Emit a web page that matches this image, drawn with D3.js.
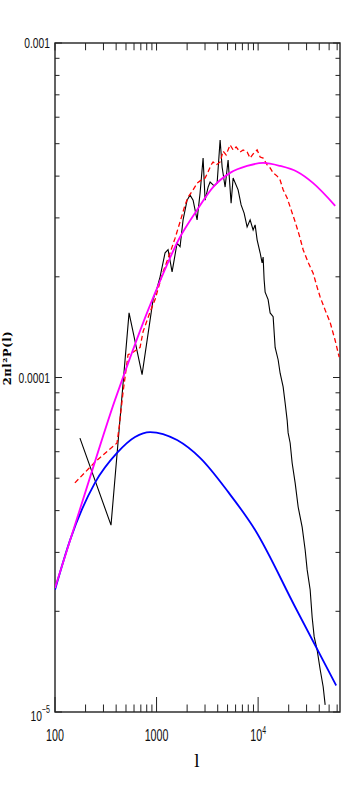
<!DOCTYPE html>
<html>
<head>
<meta charset="utf-8">
<script src="https://cdn.jsdelivr.net/npm/d3@7/dist/d3.min.js"></script>
<style>
  body { margin: 0; background: #fff; }
  svg { display: block; }
  .tick-label { font-family: 'Liberation Sans', Arial, sans-serif; fill: #111; }
</style>
</head>
<body>
<div id="chart"></div>
<script>
// values (l, 2*pi*l^2*P(l))
const magentaL = [100, 198, 390, 478, 825, 967, 1704, 2506, 3603, 5298, 7792, 11200, 16470, 24230, 34830, 57380];
const magentaP = [2.35e-5, 4.52e-5, 8.57e-5, 1.02e-4, 1.59e-4, 1.79e-4, 2.63e-4, 3.17e-4, 3.71e-4, 4.09e-4, 4.29e-4, 4.38e-4, 4.29e-4, 4.12e-4, 3.81e-4, 3.26e-4];

const blueL = [100, 141, 248, 408, 614, 863, 1592, 2683, 5063, 9342, 23150, 58690];
const blueP = [2.32e-5, 3.27e-5, 4.85e-5, 5.95e-5, 6.64e-5, 6.87e-5, 6.50e-5, 5.75e-5, 4.55e-5, 3.50e-5, 2.06e-5, 1.20e-5];

const redL = [157, 248, 408, 427, 468, 524, 587, 688, 736, 863, 967, 1133, 1359, 1522, 1704, 1909, 2044, 2289, 2506, 2683,
  3005, 3217, 3443, 3603, 3857, 4224, 4522, 4839, 5298, 5672, 6071, 6647, 7116, 7792, 8341, 8928, 9775, 10464, 11204, 12265,
  13130, 14055, 15390, 16470, 17634, 19310, 21140, 23150, 25350, 27760, 31080, 34830, 38140, 40820, 45720, 51220, 57380, 62810];
const redP = [4.84e-5, 5.59e-5, 6.37e-5, 7.06e-5, 9.05e-5, 1.17e-4, 1.19e-4, 1.23e-4, 1.37e-4, 1.57e-4, 1.71e-4, 2.03e-4, 2.36e-4, 2.61e-4, 2.92e-4, 3.28e-4, 3.46e-4, 3.64e-4, 3.81e-4, 3.87e-4,
  3.95e-4, 4.12e-4, 4.32e-4, 4.41e-4, 4.32e-4, 4.41e-4, 4.75e-4, 4.63e-4, 4.96e-4, 4.79e-4, 4.89e-4, 4.72e-4, 4.79e-4, 4.72e-4, 4.53e-4, 4.66e-4, 4.79e-4, 4.56e-4, 4.53e-4, 4.32e-4,
  4.23e-4, 4.09e-4, 4.00e-4, 3.89e-4, 3.64e-4, 3.44e-4, 3.17e-4, 2.92e-4, 2.67e-4, 2.41e-4, 2.21e-4, 2.05e-4, 1.86e-4, 1.74e-4, 1.59e-4, 1.46e-4, 1.29e-4, 1.15e-4];

const blackL = [176, 356, 536, 720, 924, 1011, 1083, 1213, 1298, 1422, 1592, 1704, 1824, 1998, 2138, 2289, 2506, 2683, 2872, 3005,
  3217, 3366, 3686, 3946, 4224, 4420, 4731, 5063, 5420, 5672, 6353, 6799, 7280, 7792, 8341, 8928, 9342, 9775, 10464, 10949,
  11204, 11460, 11722, 12545, 13130, 14055, 14708, 15740, 16470, 17634, 18450, 19310, 19750, 20670, 21630, 23150, 24790, 27140, 29050, 30400,
  32530, 34040, 35620, 38140, 40820, 43700, 45720];
const blackP = [6.59e-5, 3.62e-5, 1.56e-4, 1.02e-4, 1.71e-4, 1.85e-4, 2.00e-4, 2.36e-4, 2.41e-4, 2.07e-4, 2.52e-4, 2.46e-4, 2.96e-4, 3.39e-4, 3.51e-4, 3.39e-4, 2.96e-4, 3.56e-4, 4.53e-4, 3.39e-4,
  3.71e-4, 3.84e-4, 3.74e-4, 3.81e-4, 5.13e-4, 4.26e-4, 3.71e-4, 4.47e-4, 3.32e-4, 3.95e-4, 3.64e-4, 3.28e-4, 3.10e-4, 2.82e-4, 2.96e-4, 2.76e-4, 2.86e-4, 2.58e-4, 2.36e-4, 2.20e-4,
  2.29e-4, 1.96e-4, 1.80e-4, 1.71e-4, 1.56e-4, 1.52e-4, 1.23e-4, 1.13e-4, 1.03e-4, 9.37e-5, 8.39e-5, 7.46e-5, 6.83e-5, 6.37e-5, 5.55e-5, 4.84e-5, 4.10e-5, 3.57e-5, 3.05e-5, 2.66e-5,
  2.32e-5, 1.92e-5, 1.68e-5, 1.53e-5, 1.34e-5, 1.19e-5, 1.05e-5];

const xDomain = [100, 64000];
const yDomain = [1e-5, 1e-3];
const xLabels = [[100, '100', ''], [1000, '1000', ''], [10000, '10', '4']];
const yLabels = [[1e-3, '0.001', ''], [1e-4, '0.0001', ''], [1e-5, '10', '\u22125']];

const width = 359, height = 797;
const margin = {top: 43, right: 19, bottom: 85, left: 55};

const svg = d3.select('#chart').append('svg')
    .attr('width', width)
    .attr('height', height);

const x = d3.scaleLog()
    .domain(xDomain)
    .range([margin.left, width - margin.right]);

const y = d3.scaleLog()
    .domain(yDomain)
    .range([height - margin.bottom, margin.top]);

const x0 = x.range()[0], x1 = x.range()[1];
const y0 = y.range()[0], y1 = y.range()[1];

svg.append('defs').append('clipPath')
    .attr('id', 'plot-clip')
  .append('rect')
    .attr('x', x0)
    .attr('y', y1)
    .attr('width', x1 - x0)
    .attr('height', y0 - y1);

const isMajor = (v) => Math.abs(Math.log10(v) - Math.round(Math.log10(v))) < 1e-9;

// ticks, drawn inward on all four sides
const ticks = svg.append('g').attr('stroke', '#222').attr('stroke-width', 1);
const xTicks = x.ticks().filter(v => v >= xDomain[0] && v <= xDomain[1]);
const yTicks = y.ticks();

xTicks.forEach(v => {
  const len = isMajor(v) ? 15 : 7.5;
  ticks.append('line').attr('x1', x(v)).attr('x2', x(v)).attr('y1', y0).attr('y2', y0 - len);
  ticks.append('line').attr('x1', x(v)).attr('x2', x(v)).attr('y1', y1).attr('y2', y1 + len / 2 + (isMajor(v) ? 0 : 3.5));
});
yTicks.forEach(v => {
  const len = isMajor(v) ? 7 : 4.5;
  ticks.append('line').attr('y1', y(v)).attr('y2', y(v)).attr('x1', x0).attr('x2', x0 + len);
  ticks.append('line').attr('y1', y(v)).attr('y2', y(v)).attr('x1', x1).attr('x2', x1 - len);
});

svg.append('rect')
    .attr('x', x0)
    .attr('y', y1)
    .attr('width', x1 - x0)
    .attr('height', y0 - y1)
    .attr('fill', 'none')
    .attr('stroke', '#222')
    .attr('stroke-width', 1.4);

// data lines
const plot = svg.append('g').attr('clip-path', 'url(#plot-clip)');

const smooth = d3.line()
    .x(d => x(d[0]))
    .y(d => y(d[1]))
    .curve(d3.curveMonotoneX);

const jagged = d3.line()
    .x(d => x(d[0]))
    .y(d => y(d[1]));

const zip = (a, b) => a.map((v, i) => [v, b[i]]);

plot.append('path')
    .datum(zip(blackL, blackP))
    .attr('d', jagged)
    .attr('fill', 'none')
    .attr('stroke', '#000')
    .attr('stroke-width', 1.1);

plot.append('path')
    .datum(zip(redL, redP))
    .attr('d', jagged)
    .attr('fill', 'none')
    .attr('stroke', '#ff0000')
    .attr('stroke-width', 1.3)
    .attr('stroke-dasharray', '5,3');

plot.append('path')
    .datum(zip(blueL, blueP))
    .attr('d', smooth)
    .attr('fill', 'none')
    .attr('stroke', '#0000ff')
    .attr('stroke-width', 1.8);

plot.append('path')
    .datum(zip(magentaL, magentaP))
    .attr('d', smooth)
    .attr('fill', 'none')
    .attr('stroke', '#ff00ff')
    .attr('stroke-width', 1.8);

// tick labels
xLabels.forEach(([v, base, sup]) => {
  const t = svg.append('text')
      .attr('class', 'tick-label')
      .attr('transform', `translate(${x(v)},${y0 + 29}) scale(0.63,1)`)
      .attr('text-anchor', 'middle')
      .style('font-size', '17px')
      .text(base);
  if (sup) {
    t.append('tspan').attr('dy', -7).style('font-size', '11px').text(sup);
  }
});

yLabels.forEach(([v, base, sup]) => {
  const t = svg.append('text')
      .attr('class', 'tick-label')
      .attr('transform', `translate(${x0 - 5},${y(v) + (sup ? 9 : 5)}) scale(0.71,1)`)
      .attr('text-anchor', 'end')
      .style('font-size', '14.5px')
      .text(base);
  if (sup) {
    t.append('tspan').attr('dy', -8).style('font-size', '10px').text(sup);
  }
});

// axis titles
svg.append('text')
    .attr('x', (x0 + x1) / 2 - 0.5)
    .attr('y', 767)
    .attr('text-anchor', 'middle')
    .style('font-family', "'Liberation Serif', serif")
    .style('font-size', '19px')
    .text('l');

svg.append('text')
    .attr('transform', `translate(10.5,358) rotate(-90)`)
    .attr('text-anchor', 'middle')
    .style('font-family', "'DejaVu Serif', serif")
    .style('font-weight', 'bold')
    .style('font-size', '11.5px')
    .style('letter-spacing', '0.6px')
    .text('2\u03C0l\u00B2P(l)');
</script>
</body>
</html>
